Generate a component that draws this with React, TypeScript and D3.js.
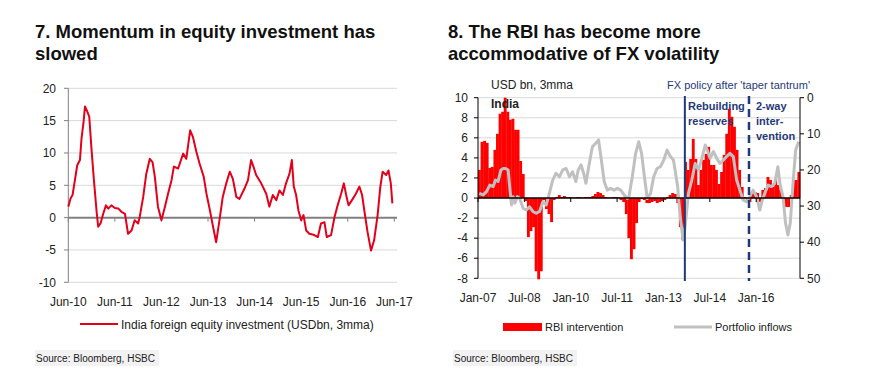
import * as d3 from "d3";

// ---- chart 7: India foreign equity investment (USDbn, 3mma) ----
// month offsets from Jun-10, value
const eqMonths = [0, 0.6, 1.1, 1.7, 2.3, 3.0, 3.4, 3.9, 4.3, 4.9, 5.4, 6.0, 6.6, 7.3, 7.7, 8.3, 9.0, 9.7, 10.3, 11.1, 12.0, 12.9, 13.7, 14.6, 15.4, 16.3, 17.1, 18.0, 18.4, 19.3, 20.1, 21.0, 21.7, 22.3, 23.1, 24.0, 24.9, 25.7, 26.6, 27.2, 28.3, 29.6, 30.4, 31.4, 32.1, 33.0, 33.8, 34.9, 35.6, 36.4, 37.3, 38.1, 39.0, 39.8, 40.7, 41.6, 42.4, 43.3, 44.1, 45.4, 46.3, 47.1, 47.7, 48.4, 49.7, 51.0, 51.8, 52.7, 53.6, 54.4, 55.3, 56.1, 57.0, 57.6, 58.1, 58.7, 59.3, 60.0, 60.6, 61.3, 62.1, 63.4, 64.3, 65.1, 66.0, 66.6, 67.7, 68.6, 69.4, 70.3, 71.0, 71.6, 72.2, 73.3, 74.1, 75.0, 75.7, 76.4, 77.1, 78.0, 78.8, 79.7, 80.4, 81.0, 81.9, 82.5, 83.1, 83.5];
const eqValues = [1.7, 3, 3.5, 5.8, 8.1, 8.9, 12.2, 14.6, 17.2, 16.4, 15.6, 10.4, 5.8, 0.9, -1.4, -0.9, 0.6, 1.9, 1.4, 1.9, 1.5, 1.4, 0.9, 0.6, -2.5, -2, -0.4, -0.9, 0.1, 3.2, 6.8, 9.1, 8.6, 6.3, 1.7, -0.4, 1.7, 3.7, 5.8, 7.9, 7.6, 9.9, 9.1, 13.5, 12.5, 10.2, 8.4, 6.3, 3.7, 1.4, -1.4, -3.8, -0.2, 3.2, 5.3, 7.1, 6, 3.2, 2.9, 4.5, 5.8, 8.9, 7.9, 6.6, 5.3, 3.7, 1.7, 3.5, 2.7, 4.2, 3.5, 5.3, 6.8, 8.9, 4.8, 3.5, 1.1, -0.4, 0.4, -2, -2.5, -2.7, -3, -0.9, -0.7, -3, -2.7, 0.1, 1.9, 3.7, 5.3, 3.5, 1.9, 2.9, 3.7, 4.8, 3.5, 0.6, -2.2, -5.1, -3.5, 0.4, 4.8, 7.1, 6.6, 7.3, 5.3, 2.2];
const eqTicks = ["Jun-10", "Jun-11", "Jun-12", "Jun-13", "Jun-14", "Jun-15", "Jun-16", "Jun-17"];
const eqYTicks = [20, 15, 10, 5, 0, -5, -10];

// ---- chart 8: RBI intervention (monthly from Jan-07) and portfolio inflows ----
const rbiValues = [2.8, 5.6, 5.7, 5.5, 3.0, 3.1, 4.8, 6.4, 8.4, 8.6, 10.0, 8.6, 7.8, 7.9, 6.8, 6.8, 3.7, 2.4, -0.3, -3.9, -3.3, -2.9, -7.3, -8.1, -7.3, -0.2, -1.1, -1.6, -2.4, -0.2, 0.1, 0.3, 0.1, 0.2, 0.1, 0.1, 0.05, 0.05, 0.1, 0.1, 0.05, 0.1, 0.1, 0.1, 0.2, 0.4, 0.6, 0.5, 0.3, 0.1, 0.05, 0.05, 0.1, 0.1, 0.05, -0.2, -0.4, -1.6, -4.0, -6.1, -5.1, -2.5, -0.4, -0.1, -0.2, -0.5, -0.5, -0.4, -0.3, -0.5, -0.4, -0.3, -0.2, 0.1, 0.3, 0.5, 0.4, -0.5, -2.9, -4.2, 3.6, 2.8, 3.9, 5.9, 3.9, 1.3, 2.8, 3.8, 4.4, 5.1, 3.3, 3.3, 2.8, 1.4, 2.6, 4.3, 6.4, 8.9, 8.1, 7.1, 4.8, 2.8, 1.1, 0.1, -0.2, -0.4, 0.6, 0.6, 0.5, -0.4, 0.8, 1.0, 2.1, 1.8, 1.1, 1.9, 1.3, 0.8, -0.2, -0.9, -0.9, 0.3, 1.8, 1.8, 2.6];
const pfMonths = [0, 1.5, 2.8, 4.1, 5.4, 6.3, 7.3, 8.4, 9.3, 10.2, 11.2, 11.8, 12.5, 13.1, 13.8, 14.8, 15.7, 17.0, 18.3, 19.5, 20.8, 22.1, 23.4, 24.7, 26.0, 27.2, 28.5, 29.8, 31.1, 32.4, 33.7, 35.0, 36.2, 37.5, 38.4, 39.5, 40.5, 41.4, 42.7, 43.9, 45.2, 46.3, 47.2, 48.5, 49.7, 51.0, 52.3, 53.6, 54.9, 56.2, 57.5, 58.1, 59.4, 60.7, 61.9, 63.0, 64.1, 65.2, 66.5, 67.7, 69.0, 70.3, 71.6, 72.9, 74.2, 75.4, 77.0, 78.0, 79.1, 79.9, 81.2, 82.5, 83.8, 85.1, 86.4, 87.7, 88.7, 89.6, 90.9, 92.2, 93.4, 94.7, 96.0, 97.3, 98.6, 99.9, 101.2, 102.4, 103.7, 105.0, 106.3, 107.6, 108.9, 109.9, 110.8, 112.1, 113.4, 114.7, 115.9, 116.8, 117.9, 118.9, 119.8, 120.7, 121.7, 122.8, 124.0];
const pfValues = [26.5, 26.9, 26, 24.2, 24.6, 22.8, 23.2, 20, 19.6, 19.6, 20, 24.6, 29.7, 27.4, 29.2, 27.4, 27.9, 30.6, 31.1, 30.2, 31.5, 32, 31.5, 28.8, 29.7, 26.5, 22.8, 20.9, 21.9, 20, 19.6, 21.9, 20.5, 23.2, 20, 18.6, 20.9, 23.7, 18.2, 13.6, 12.6, 11.7, 16.3, 23.2, 25.6, 25.1, 25.6, 25.1, 25.6, 26.9, 27.9, 27.4, 21.9, 15.4, 12.2, 15.4, 21.9, 27.9, 26.5, 21.9, 19.6, 19.1, 17.3, 14.5, 16.3, 17.3, 24.6, 32.9, 39.4, 35.7, 26.5, 22.8, 18.2, 20, 16.8, 13.1, 14.9, 16.8, 14.9, 16.8, 18.2, 17.3, 16.3, 15.4, 16.3, 22.8, 25.6, 28.3, 28.8, 27.4, 25.6, 27.4, 31.1, 28.3, 26.5, 24.2, 24.6, 23.7, 19.1, 24.2, 27.4, 34.8, 38, 34.8, 24.6, 14.5, 12.2];
const rbiTicks = ["Jan-07", "Jul-08", "Jan-10", "Jul-11", "Jan-13", "Jul-14", "Jan-16"];
const rbiYTicks = [10, 8, 6, 4, 2, 0, -2, -4, -6, -8];
const pfYTicks = [0, 10, 20, 30, 40, 50];
// policy regime changes (months from Jan-07): solid = after taper tantrum, dashed = 2-way
const policyMonths = [80.3, 105.2];

const FONT = "'Liberation Sans', Arial, sans-serif";
const NAVY = "#1f3a7a";

function LeftChart() {
  const x = d3.scaleLinear().domain([0, 84]).range([68.3, 394.3]);
  const y = d3.scaleLinear().domain([-10, 20]).range([282.3, 88.3]);
  const pts = eqMonths.map((m, i) => [m, eqValues[i]] as [number, number]);
  const line = d3
    .line<[number, number]>()
    .x((d) => x(d[0]))
    .y((d) => y(d[1]));
  return (
    <g>
      {eqYTicks.filter((v) => v !== 0).map((v) => (
        <line key={v} x1={68} x2={397} y1={y(v)} y2={y(v)} stroke="#d9d9d9" strokeWidth={1} />
      ))}
      <line x1={68.3} x2={68.3} y1={y(20)} y2={y(-10)} stroke="#808080" strokeWidth={1} />
      {eqYTicks.map((v) => (
        <g key={v}>
          <line x1={64} x2={68.3} y1={y(v)} y2={y(v)} stroke="#808080" />
          <text x={56} y={y(v)} dy="0.35em" textAnchor="end" fontSize={12} fill="#222">
            {v}
          </text>
        </g>
      ))}
      <line x1={68} x2={397} y1={y(0)} y2={y(0)} stroke="#808080" strokeWidth={2} />
      {eqTicks.map((t, i) => (
        <g key={t}>
          <line x1={x(i * 12)} x2={x(i * 12)} y1={y(0)} y2={y(0) + 4} stroke="#808080" />
          <text x={x(i * 12)} y={306} textAnchor="middle" fontSize={12} fill="#222">
            {t}
          </text>
        </g>
      ))}
      <path d={line(pts) ?? ""} fill="none" stroke="#e3001b" strokeWidth={2} strokeLinejoin="round" />
      <line x1={80} x2={118} y1={324} y2={324} stroke="#e3001b" strokeWidth={2} />
      <text x={121} y={328.5} fontSize={12} fill="#222">
        India foreign equity investment (USDbn, 3mma)
      </text>
    </g>
  );
}

function RightChart() {
  const x = d3.scaleLinear().domain([0, 125]).range([478, 800]);
  const y = d3.scaleLinear().domain([-8, 10]).range([278.3, 97.7]);
  const y2 = d3.scaleLinear().domain([0, 50]).range([97.7, 278.3]);
  const bw = x(1) - x(0);
  const pts = pfMonths.map((m, i) => [m, pfValues[i]] as [number, number]);
  const line = d3
    .line<[number, number]>()
    .x((d) => x(d[0] + 0.5))
    .y((d) => y2(d[1]));
  return (
    <g>
      {rbiYTicks.filter((v) => v !== 0).map((v) => (
        <line key={v} x1={478} x2={800} y1={y(v)} y2={y(v)} stroke="#d9d9d9" strokeWidth={1} />
      ))}
      {rbiValues.map((v, i) => (
        <rect
          key={i}
          x={x(i)}
          width={bw + 0.3}
          y={Math.min(y(v), y(0))}
          height={Math.abs(y(v) - y(0))}
          fill="#ff0000"
        />
      ))}
      <path d={line(pts) ?? ""} fill="none" stroke="#c0c0c0" strokeWidth={3} strokeLinejoin="round" />
      <line x1={478} x2={800} y1={y(0)} y2={y(0)} stroke="#000" strokeWidth={1.5} />
      {rbiTicks.map((t, i) => (
        <g key={t}>
          <line x1={x(i * 18)} x2={x(i * 18)} y1={y(0)} y2={y(0) + 4} stroke="#000" />
          <text x={x(i * 18)} y={301.5} textAnchor="middle" fontSize={12} fill="#222">
            {t}
          </text>
        </g>
      ))}
      <line x1={478} x2={478} y1={y(10)} y2={y(-8)} stroke="#000" strokeWidth={1} />
      {rbiYTicks.map((v) => (
        <g key={v}>
          <line x1={474} x2={478} y1={y(v)} y2={y(v)} stroke="#000" />
          <text x={468} y={y(v)} dy="0.35em" textAnchor="end" fontSize={12} fill="#222">
            {v}
          </text>
        </g>
      ))}
      <line x1={800} x2={800} y1={y2(0)} y2={y2(50)} stroke="#000" strokeWidth={1} />
      {pfYTicks.map((v) => (
        <g key={v}>
          <line x1={800} x2={804} y1={y2(v)} y2={y2(v)} stroke="#000" />
          <text x={807} y={y2(v)} dy="0.35em" fontSize={12} fill="#222">
            {v}
          </text>
        </g>
      ))}
      <line x1={x(policyMonths[0])} x2={x(policyMonths[0])} y1={96} y2={281} stroke={NAVY} strokeWidth={2} />
      <line
        x1={x(policyMonths[1])}
        x2={x(policyMonths[1])}
        y1={96}
        y2={281}
        stroke={NAVY}
        strokeWidth={2.5}
        strokeDasharray="8,5"
      />
      <text x={491} y={89} fontSize={12} fill="#222">USD bn, 3mma</text>
      <text x={810} y={89} textAnchor="end" fontSize={11} fill={NAVY}>
        FX policy after 'taper tantrum'
      </text>
      <text x={491} y={108} fontSize={12} fontWeight="bold" fill="#222">India</text>
      <text x={688} y={110} fontSize={11} fontWeight="bold" fill={NAVY}>
        <tspan x={688}>Rebuilding</tspan>
        <tspan x={688} dy={15}>reserves</tspan>
      </text>
      <text x={756} y={110} fontSize={11} fontWeight="bold" fill={NAVY}>
        <tspan x={756}>2-way</tspan>
        <tspan x={756} dy={15}>inter-</tspan>
        <tspan x={756} dy={15}>vention</tspan>
      </text>
      <rect x={503} y={323} width={39} height={8} fill="#ff0000" />
      <text x={545} y={331} fontSize={11} fill="#222">RBI intervention</text>
      <line x1={674} x2={712} y1={327} y2={327} stroke="#c0c0c0" strokeWidth={3} />
      <text x={715} y={331} fontSize={11} fill="#222">Portfolio inflows</text>
    </g>
  );
}

export default function App() {
  return (
    <svg
      width={886}
      height={391}
      style={{ position: "absolute", left: 0, top: 0, background: "#fff" }}
      fontFamily={FONT}
    >
      <text fontSize={18.5} fontWeight="bold" fill="#111">
        <tspan x={35} y={37.5}>7. Momentum in equity investment has</tspan>
        <tspan x={35} y={59.5}>slowed</tspan>
      </text>
      <text fontSize={18.5} fontWeight="bold" fill="#111">
        <tspan x={448} y={37.5}>8. The RBI has become more</tspan>
        <tspan x={448} y={59.5}>accommodative of FX volatility</tspan>
      </text>
      <LeftChart />
      <RightChart />
      <rect x={35} y={350} width={124} height={16} fill="#f2f2f2" />
      <text x={36} y={362} fontSize={10} fill="#222">Source: Bloomberg, HSBC</text>
      <rect x={453} y={350} width={124} height={16} fill="#f2f2f2" />
      <text x={454} y={362} fontSize={10} fill="#222">Source: Bloomberg, HSBC</text>
    </svg>
  );
}
